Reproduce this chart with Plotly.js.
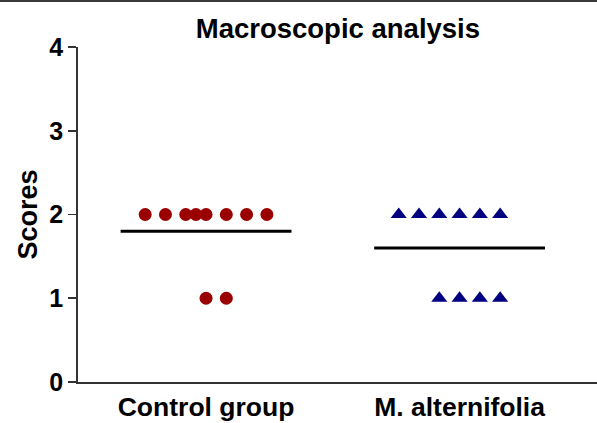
<!DOCTYPE html>
<html>
<head>
<meta charset="utf-8">
<script src="https://cdn.plot.ly/plotly-3.0.1.min.js"></script>
<style>
html,body{margin:0;padding:0;background:#fff;}
#wrap{position:relative;width:597px;height:423px;}
#chart{width:597px;height:423px;}
#topline{position:absolute;left:0;top:0;width:597px;height:2px;background:#3a3a3a;pointer-events:none;}
</style>
</head>
<body>
<div id="wrap"><div id="chart"></div><div id="topline"></div></div>
<script>
// Categories and their x positions on the axis
const categories = ["Control group", "M. alternifolia"];
const categoryPos = [0, 1];

// Control group scores (dot plot) and horizontal jitter
const controlScores  = [2, 2, 2, 2, 2, 2, 2, 2, 1, 1];
const controlJitter  = [-0.24, -0.16, -0.08, -0.04, 0, 0.08, 0.16, 0.24, 0, 0.08];

// M. alternifolia scores and jitter
const altScores = [2, 2, 2, 2, 2, 2, 1, 1, 1, 1];
const altJitter = [-0.24, -0.16, -0.08, 0, 0.08, 0.16, -0.08, 0, 0.08, 0.16];

const yTicks = [0, 1, 2, 3, 4];
const meanHalfWidth = 0.337;

const mean = a => a.reduce((s, v) => s + v, 0) / a.length;

const FONT = "Liberation Sans, Arial, Helvetica, sans-serif";

const traces = [
  {
    type: "scatter", mode: "markers",
    x: controlJitter.map(j => categoryPos[0] + j), y: controlScores,
    marker: {symbol: "circle", size: 13, color: "#9a0000"},
    hoverinfo: "skip", showlegend: false, cliponaxis: false
  },
  {
    type: "scatter", mode: "markers",
    x: altJitter.map(j => categoryPos[1] + j), y: altScores,
    marker: {symbol: "triangle-up", size: 14, color: "#000080"},
    hoverinfo: "skip", showlegend: false, cliponaxis: false
  },
  {
    type: "scatter", mode: "lines",
    x: [categoryPos[0] - meanHalfWidth, categoryPos[0] + meanHalfWidth],
    y: [mean(controlScores), mean(controlScores)],
    line: {color: "#000", width: 3}, hoverinfo: "skip", showlegend: false
  },
  {
    type: "scatter", mode: "lines",
    x: [categoryPos[1] - meanHalfWidth, categoryPos[1] + meanHalfWidth],
    y: [mean(altScores), mean(altScores)],
    line: {color: "#000", width: 3}, hoverinfo: "skip", showlegend: false
  }
];

const layout = {
  width: 597, height: 423,
  margin: {l: 78, r: 0, t: 47, b: 41, pad: 0},
  paper_bgcolor: "#fff", plot_bgcolor: "#fff",
  font: {family: FONT, color: "#000"},
  title: {
    text: "Macroscopic analysis",
    font: {family: FONT, size: 27.5, weight: "bold", color: "#000"},
    x: 0.566, xanchor: "center", y: 0.933, yanchor: "middle"
  },
  xaxis: {
    range: [-0.505, 1.542],
    tickvals: categoryPos, ticktext: categories,
    ticks: "", showgrid: false, zeroline: false,
    showline: true, linecolor: "#333", linewidth: 1.8,
    tickfont: {family: FONT, size: 26.5, weight: "bold", color: "#000"},
    ticklabelstandoff: 0,
    fixedrange: true
  },
  yaxis: {
    range: [0, 4],
    tickvals: yTicks, ticktext: yTicks.map(String),
    ticks: "outside", ticklen: 8, tickwidth: 1.8, tickcolor: "#333",
    showgrid: false, zeroline: false,
    showline: true, linecolor: "#333", linewidth: 1.8,
    tickfont: {family: FONT, size: 25, weight: "bold", color: "#000"},
    ticklabelstandoff: 0,
    title: {text: "Scores", font: {family: FONT, size: 27, weight: "bold", color: "#000"}, standoff: 4},
    fixedrange: true
  },
  showlegend: false
};

Plotly.newPlot("chart", traces, layout, {staticPlot: true, displayModeBar: false});
</script>
</body>
</html>
